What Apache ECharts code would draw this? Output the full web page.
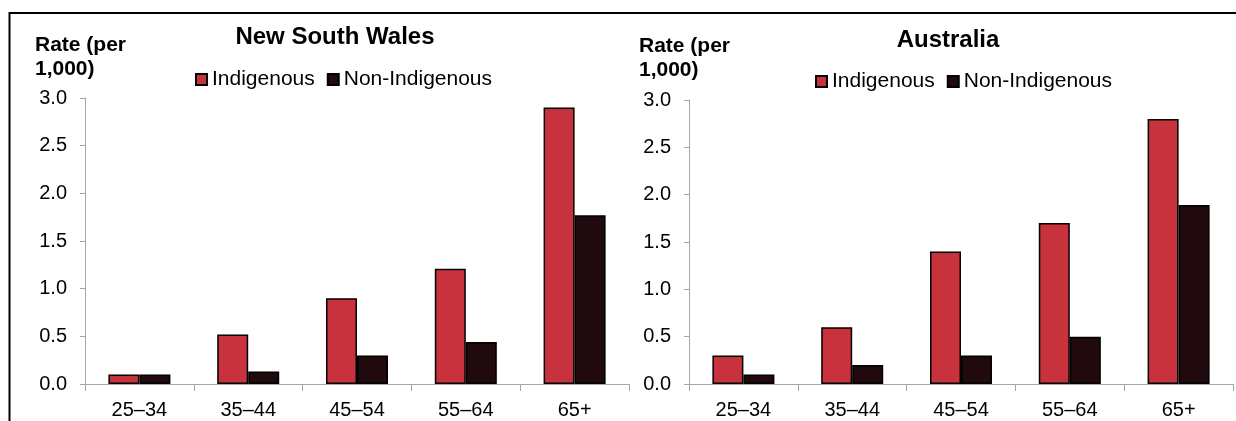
<!DOCTYPE html>
<html>
<head>
<meta charset="utf-8">
<script src="https://cdn.jsdelivr.net/npm/echarts@6/dist/echarts.min.js"></script>
<style>
html,body{margin:0;padding:0;background:#fff;}
#chart{width:1236px;height:421px;}
</style>
</head>
<body>
<div id="chart"></div>
<script>
const categories = ['25–34', '35–44', '45–54', '55–64', '65+'];
const nswIndigenous = [0.1, 0.52, 0.9, 1.21, 2.9];
const nswNonIndigenous = [0.1, 0.13, 0.3, 0.44, 1.77];
const ausIndigenous = [0.3, 0.6, 1.4, 1.7, 2.8];
const ausNonIndigenous = [0.1, 0.2, 0.3, 0.5, 1.89];
const yTicks = [0, 0.5, 1.0, 1.5, 2.0, 2.5, 3.0];
const panelTitles = ['New South Wales', 'Australia'];
const yAxisTitle = 'Rate (per\n1,000)';
const seriesNames = ['Indigenous', 'Non-Indigenous'];

const RED = '#C8323C';
const DARK = '#200A0D';
const AXIS = '#A6A6A6';
const FONT = '"Liberation Sans", Arial, sans-serif';

const chart = echarts.init(document.getElementById('chart'), null, {renderer: 'canvas'});

function yAxis(gi) {
  return {
    type: 'value', gridIndex: gi, min: yTicks[0], max: yTicks[yTicks.length - 1], interval: 0.5,
    axisLine: {show: true, lineStyle: {color: AXIS, width: 1}},
    axisTick: {show: true, length: 5, lineStyle: {color: AXIS}},
    splitLine: {show: false},
    axisLabel: {color: '#000', fontSize: 20, fontFamily: FONT, margin: 18,
      formatter: v => v.toFixed(1)}
  };
}
function xAxis(gi) {
  return {
    type: 'category', gridIndex: gi, data: categories,
    axisLine: {show: true, lineStyle: {color: AXIS, width: 1}},
    axisTick: {show: true, length: 7, lineStyle: {color: AXIS}},
    axisLabel: {color: '#000', fontSize: 20, fontFamily: FONT, margin: 16}
  };
}
function bar(name, data, color, gi) {
  return {
    name, type: 'bar', data, xAxisIndex: gi, yAxisIndex: gi,
    barGap: '0%', barCategoryGap: '43%',
    itemStyle: {color, borderColor: '#000', borderWidth: 1.5},
    emphasis: {disabled: true}
  };
}
const titleStyle = {fontSize: 24, fontWeight: 'bold', color: '#000', fontFamily: FONT};
const axisTitleStyle = {fontSize: 21, fontWeight: 'bold', color: '#000', fontFamily: FONT, lineHeight: 24};
const legendText = {fontSize: 21, color: '#000', fontFamily: FONT};

chart.setOption({
  animation: false,
  title: [
    {text: panelTitles[0], left: 335, top: 25, textAlign: 'center', textStyle: titleStyle, padding: 0},
    {text: panelTitles[1], left: 948, top: 28, textAlign: 'center', textStyle: titleStyle, padding: 0},
    {text: yAxisTitle, left: 35, top: 33, textStyle: axisTitleStyle, padding: 0},
    {text: yAxisTitle, left: 639, top: 34, textStyle: axisTitleStyle, padding: 0}
  ],
  legend: [
    {data: seriesNames, left: 195, top: 69, padding: 0, icon: 'rect', itemWidth: 11, itemHeight: 11, itemGap: 12,
      textStyle: legendText, selectedMode: false},
    {data: seriesNames, left: 815, top: 71, padding: 0, icon: 'rect', itemWidth: 11, itemHeight: 11, itemGap: 12,
      textStyle: legendText, selectedMode: false}
  ],
  grid: [
    {left: 85, right: 607, top: 98, bottom: 37},
    {left: 689, right: 3, top: 100, bottom: 37}
  ],
  xAxis: [xAxis(0), xAxis(1)],
  yAxis: [yAxis(0), yAxis(1)],
  series: [
    bar(seriesNames[0], nswIndigenous, RED, 0),
    bar(seriesNames[1], nswNonIndigenous, DARK, 0),
    bar(seriesNames[0], ausIndigenous, RED, 1),
    bar(seriesNames[1], ausNonIndigenous, DARK, 1)
  ],
  graphic: [
    {type: 'polyline', shape: {points: [[9.5, 421], [9.5, 13], [1236, 13]]},
      style: {stroke: '#000', lineWidth: 2, fill: null}, silent: true}
  ]
});
</script>
</body>
</html>
